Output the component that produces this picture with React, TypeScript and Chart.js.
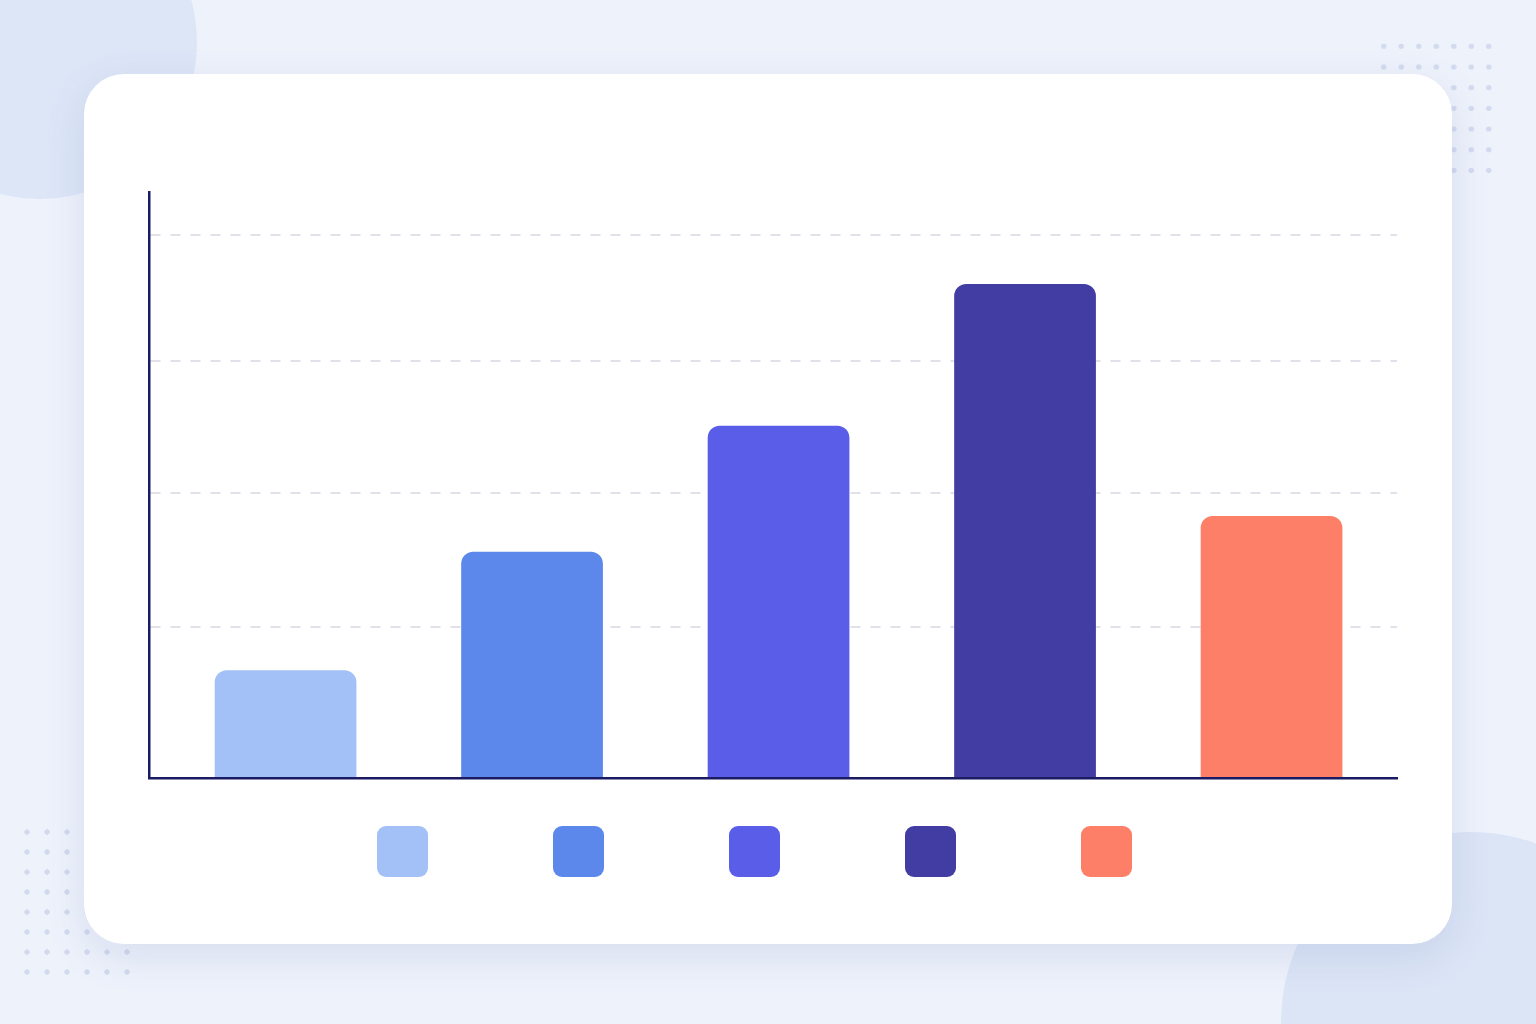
import { useEffect, useRef } from "react"
import { Chart, registerables } from "chart.js"

Chart.register(...registerables)

const categories = ["Category A", "Category B", "Category C", "Category D", "Category E"]
const values = [18.4, 38.6, 60.1, 84.3, 44.7]
const barColors = ["#a3c1f7", "#5c88ec", "#5a5de8", "#413da3", "#fd7f67"]
const gridTicks = [0, 25.8, 48.6, 71.2, 92.7]

function BarChart() {
  const chartRef = useRef<HTMLCanvasElement>(null)
  const chartInstance = useRef<Chart | null>(null)

  useEffect(() => {
    const canvas = chartRef.current
    if (!canvas) return
    const ctx = canvas.getContext("2d")
    if (!ctx) return

    if (chartInstance.current) chartInstance.current.destroy()

    chartInstance.current = new Chart(ctx, {
      type: "bar",
      data: {
        labels: categories,
        datasets: [
          {
            label: "Values",
            data: values.map((v, i) => ({ x: i, y: v })),
            backgroundColor: barColors,
            borderRadius: 12,
            borderSkipped: "start",
            categoryPercentage: 1,
            barPercentage: 0.575,
          },
        ],
      },
      options: {
        animation: false,
        responsive: true,
        maintainAspectRatio: false,
        layout: { padding: 20 },
        plugins: {
          legend: { display: false },
          tooltip: { enabled: false },
        },
        scales: {
          x: {
            type: "linear",
            offset: false,
            min: -0.554,
            max: 4.509,
            afterBuildTicks: (s: any) => {
              s.ticks = categories.map((_, i) => ({ value: i }))
            },
            grid: { display: false, offset: false },
            ticks: { display: false },
            border: { display: true, color: "#1b1a64", width: 2.5 },
            afterFit: (s: any) => {
              s.height = 0
            },
          },
          y: {
            min: 0,
            max: 100,
            afterBuildTicks: (s: any) => {
              s.ticks = gridTicks.map((v) => ({ value: v }))
            },
            ticks: { display: false },
            grid: {
              color: (c: any) => (c.tick && c.tick.value === 0 ? "rgba(0,0,0,0)" : "#e1e1ea"),
              lineWidth: 2,
              drawTicks: false,
            },
            border: { display: true, color: "#1b1a64", width: 2.5, dash: [10, 10] },
            afterFit: (s: any) => {
              s.width = 0
            },
          },
        },
      },
    })

    return () => {
      if (chartInstance.current) {
        chartInstance.current.destroy()
        chartInstance.current = null
      }
    }
  }, [])

  return (
    <div style={{ position: "absolute", left: 129, top: 172, width: 1288, height: 626 }}>
      <canvas ref={chartRef} />
    </div>
  )
}

export default function App() {
  return (
    <div
      style={{
        position: "fixed",
        inset: 0,
        width: 1536,
        height: 1024,
        overflow: "hidden",
        background: "#eef2fb",
        fontFamily: "Inter, sans-serif",
      }}
    >
      {/* decorative shapes */}
      <div
        style={{
          position: "absolute",
          left: 40 - 157,
          top: 42 - 157,
          width: 314,
          height: 314,
          borderRadius: "50%",
          background: "#dde6f7",
        }}
      />
      <div
        style={{
          position: "absolute",
          left: 1471 - 190,
          top: 1022 - 190,
          width: 380,
          height: 380,
          borderRadius: "50%",
          background: "#dce5f6",
        }}
      />
      <div
        style={{
          position: "absolute",
          left: 1375,
          top: 36,
          width: 123,
          height: 145,
          backgroundImage: "radial-gradient(circle, #d2daee 2.4px, transparent 3px)",
          backgroundSize: "17.5px 20.7px",
        }}
      />
      <div
        style={{
          position: "absolute",
          left: 17,
          top: 822,
          width: 120,
          height: 160,
          backgroundImage: "radial-gradient(circle, #d2daee 2.4px, transparent 3px)",
          backgroundSize: "20px 20px",
        }}
      />

      {/* card */}
      <div
        style={{
          position: "absolute",
          left: 84,
          top: 74,
          width: 1368,
          height: 870,
          borderRadius: 40,
          background: "#ffffff",
          boxShadow: "0 12px 40px rgba(80, 100, 170, 0.14)",
        }}
      />

      <BarChart />

      <div
        style={{
          position: "absolute",
          left: 377,
          top: 826,
          display: "flex",
          gap: 125,
        }}
      >
        {barColors.map((c, i) => (
          <span
            key={categories[i]}
            title={categories[i]}
            style={{ width: 51, height: 51, borderRadius: 9, background: c, display: "block" }}
          />
        ))}
      </div>
    </div>
  )
}
